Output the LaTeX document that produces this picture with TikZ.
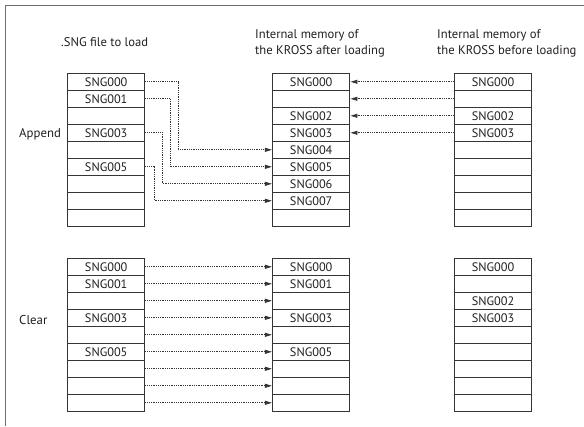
\documentclass[tikz,border=0pt]{standalone}
\usepackage{fontspec}
\setmainfont{PT Sans}
\usetikzlibrary{arrows.meta, positioning}
\definecolor{trait}{HTML}{353535}
\definecolor{cadre}{HTML}{6E6E6E}
\definecolor{texte}{HTML}{231F20}
\tikzset{
  case/.style={rectangle, draw=trait, line width=1pt, minimum width=77.5pt,
    minimum height=17pt, inner sep=0pt, font=\fontsize{12.3}{13}\selectfont, text=texte},
  fleche/.style={-{Triangle[length=7pt,width=4pt]}, densely dotted, line width=0.8pt, color=trait},
  titre/.style={font=\fontsize{12.6}{16}\selectfont, align=left, anchor=west,
    text=texte, inner sep=0pt},
  etiquette/.style={font=\fontsize{12.8}{14}\selectfont, anchor=west, text=texte, inner sep=0pt}
}

\begin{document}
\begin{tikzpicture}[x=1pt, y=-1pt]
  \useasboundingbox (0,0) rectangle (584,426);
  \draw[cadre, line width=1pt] (5,426) -- (5,5) -- (584,5);

  % en-tetes
  \node[titre] (tfich) at (61,42) {.SNG file to load};
  \node[titre] (tapres) at (255,43) {Internal memory of\\the KROSS after loading};
  \node[titre] (tavant) at (437,43) {Internal memory of\\the KROSS before loading};

  \node[etiquette] (lappend) at (19,134) {Append};
  \node[etiquette] (lclear) at (19,320) {Clear};

  % Append
  \foreach \t [count=\i from 0] in {SNG000,SNG001,{},SNG003,{},SNG005,{},{},{}}
    \node[case] (aF\i) at (106.2,{81.8+17*\i}) {\t};
  \foreach \t [count=\i from 0] in {SNG000,{},SNG002,SNG003,SNG004,SNG005,SNG006,SNG007,{}}
    \node[case] (aA\i) at (311.2,{81.8+17*\i}) {\t};
  \foreach \t [count=\i from 0] in {SNG000,{},SNG002,SNG003,{},{},{},{},{}}
    \node[case] (aB\i) at (493,{81.8+17*\i}) {\t};

  \draw[fleche] (aF0.east) -- ++(33,0) |- (aA4.west);
  \draw[fleche] (aF1.east) -- ++(25,0) |- (aA5.west);
  \draw[fleche] (aF3.east) -- ++(17,0) |- (aA6.west);
  \draw[fleche] (aF5.east) -- ++(9,0) |- (aA7.west);
  \foreach \i in {0,...,3} { \draw[fleche] (aB\i.west) -- (aA\i.east); }

  % Clear
  \foreach \t [count=\i from 0] in {SNG000,SNG001,{},SNG003,{},SNG005,{},{},{}}
    \node[case] (cF\i) at (106.2,{266.8+17*\i}) {\t};
  \foreach \t [count=\i from 0] in {SNG000,SNG001,{},SNG003,{},SNG005,{},{},{}}
    \node[case] (cA\i) at (311.2,{266.8+17*\i}) {\t};
  \foreach \t [count=\i from 0] in {SNG000,{},SNG002,SNG003,{},{},{},{},{}}
    \node[case] (cB\i) at (493,{266.8+17*\i}) {\t};

  \foreach \i in {0,...,8} { \draw[fleche] (cF\i.east) -- (cA\i.west); }
\end{tikzpicture}
\end{document}
